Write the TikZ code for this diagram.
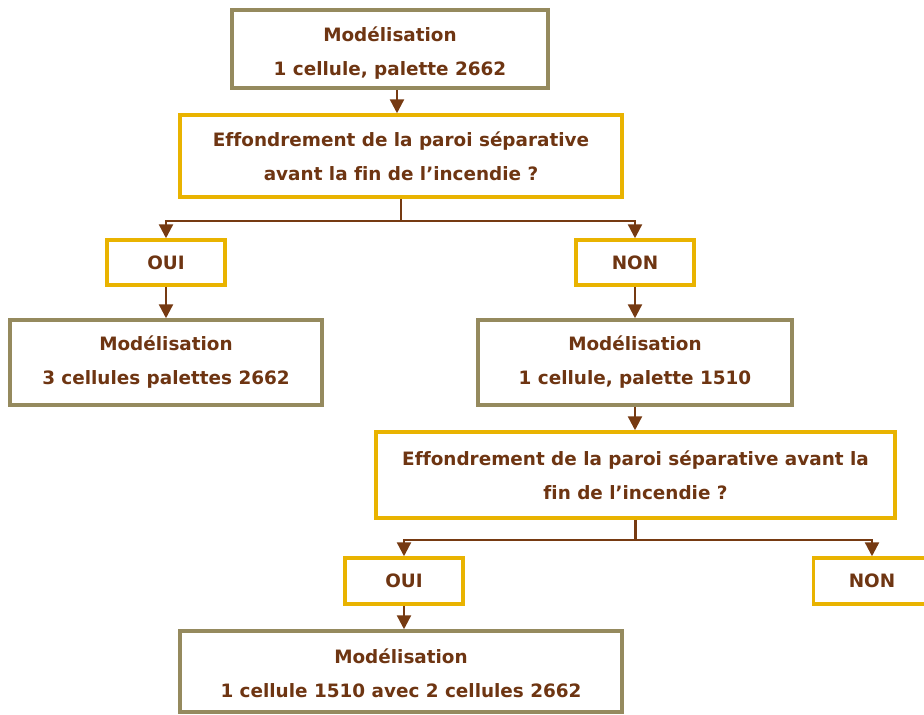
\documentclass[tikz,border=0pt]{standalone}
\usepackage{fontspec}
\setmainfont[Ligatures=NoCommon]{DejaVu Sans}
\usetikzlibrary{arrows.meta,calc}
\definecolor{txtbrown}{HTML}{6E3512}
\definecolor{arrbrown}{HTML}{763A12}
\definecolor{olive}{HTML}{958A5E}
\definecolor{gold}{HTML}{E9B300}
\tikzset{
  base/.style={draw, fill=white, line width=3.5pt, align=center, text=txtbrown,
    font=\fontsize{18.4}{34}\selectfont\bfseries, inner sep=0pt},
  obox/.style={base, draw=olive},
  gbox/.style={base, draw=gold},
  arr/.style={draw=arrbrown, line width=2.4pt, -{Triangle[width=14pt,length=14pt]}},
  ln/.style={draw=arrbrown, line width=2.4pt},
}
\begin{document}
\begin{tikzpicture}[x=1pt,y=-1pt]
\useasboundingbox[fill=white] (0,0) rectangle (924,715);
\begin{scope}
\clip (0,0) rectangle (924,715);
\node[obox, minimum width=316pt, minimum height=78pt] (b1) at (390,49) {\rule{0pt}{22pt}Modélisation\\1 cellule, palette 2662};
\node[gbox, minimum width=442pt, minimum height=82pt] (b2) at (401,156) {Effondrement de la paroi séparative\\avant la fin de l’incendie ?};
\node[gbox, minimum width=118pt, minimum height=45pt] (oui1) at (166,262.5) {OUI};
\node[gbox, minimum width=118pt, minimum height=45pt] (non1) at (635,262.5) {NON};
\node[obox, minimum width=312pt, minimum height=85pt] (b3) at (166,362.5) {Modélisation\\3 cellules palettes 2662};
\node[obox, minimum width=314pt, minimum height=85pt] (b4) at (635,362.5) {Modélisation\\1 cellule, palette 1510};
\node[gbox, minimum width=519pt, minimum height=86pt] (b5) at (635.5,475) {Effondrement de la paroi séparative avant la\\fin de l’incendie ?};
\node[gbox, minimum width=118pt, minimum height=46pt] (oui2) at (404,581) {OUI};
\node[gbox, minimum width=117pt, minimum height=46pt] (non2) at (872,581) {NON};
\node[obox, minimum width=442pt, minimum height=81pt] (b6) at (401,671.5) {\rule{0pt}{18pt}Modélisation\\1 cellule 1510 avec 2 cellules 2662};

\draw[arr] ([xshift=7pt]b1.south) -- ([xshift=7pt]b1.south |- b2.north);
\draw[ln] (b2.south) -- ++(0,22) coordinate (j1);
\draw[arr] (j1) -| (oui1.north);
\draw[arr] (j1) -| (non1.north);
\draw[arr] (oui1.south) -- (oui1.south |- b3.north);
\draw[arr] (non1.south) -- (non1.south |- b4.north);
\draw[arr] (b4.south) -- (b4.south |- b5.north);
\draw[ln] (b5.south) -- ++(0,20) coordinate (j2);
\draw[arr] (j2) -| (oui2.north);
\draw[arr] (j2) -| (non2.north);
\draw[arr] (oui2.south) -- (oui2.south |- b6.north);
\end{scope}
\end{tikzpicture}
\end{document}
